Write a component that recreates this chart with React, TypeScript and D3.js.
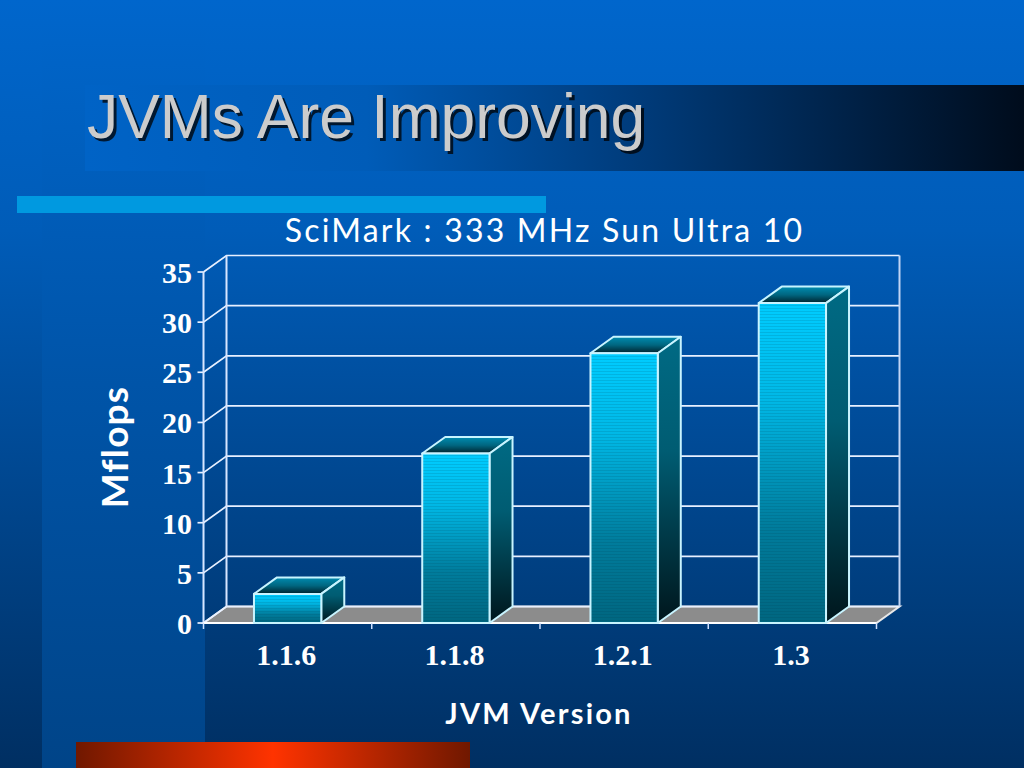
import React from "react";
import * as d3 from "d3";

const categories = ["1.1.6", "1.1.8", "1.2.1", "1.3"];
const values = [2.9, 16.9, 26.9, 31.9];
const yTicks = [0, 5, 10, 15, 20, 25, 30, 35];
const titleText = "JVMs Are Improving";
const chartTitle = "SciMark : 333 MHz Sun Ultra 10";
const xTitle = "JVM Version";
const yTitle = "Mflops";

const W = 1024, H = 768;
const dx = 23, dy = -16.5;
const y = d3.scaleLinear().domain([0, 35]).range([623, 272]);
const x = d3.scaleBand().domain(categories).range([203.5, 876.5]).paddingInner(0.6).paddingOuter(0.3);
const comic = "'Comic Sans MS','Lato','Noto Sans',sans-serif";

export default function App() {
  const x0 = 203.5, x1 = 876.5;
  const line = d3.line();
  return (
    <svg width={W} height={H} viewBox={`0 0 ${W} ${H}`} style={{ position: "absolute", left: 0, top: 0 }}>
      <defs>
        <linearGradient id="bg" x1="0" y1="0" x2="0" y2="1">
          <stop offset="0" stopColor="#0066cc" />
          <stop offset="0.3" stopColor="#005cb8" />
          <stop offset="1" stopColor="#002f62" />
        </linearGradient>
        <linearGradient id="bg2" gradientUnits="userSpaceOnUse" x1="0" y1="0" x2="0" y2="768">
          <stop offset="0" stopColor="#0066cc" />
          <stop offset="0.5" stopColor="#0054a8" />
          <stop offset="1" stopColor="#004488" />
        </linearGradient>
        <linearGradient id="band" x1="0" y1="0" x2="1" y2="0">
          <stop offset="0" stopColor="#0063c6" />
          <stop offset="0.3" stopColor="#005cb8" />
          <stop offset="0.6" stopColor="#003a78" />
          <stop offset="1" stopColor="#000c1c" />
        </linearGradient>
        <linearGradient id="red" x1="0" y1="0" x2="1" y2="0">
          <stop offset="0" stopColor="#701800" />
          <stop offset="0.5" stopColor="#ff3300" />
          <stop offset="1" stopColor="#701800" />
        </linearGradient>
        <linearGradient id="front" x1="0" y1="0" x2="0" y2="1">
          <stop offset="0" stopColor="#00ccff" />
          <stop offset="0.3" stopColor="#00b8e6" />
          <stop offset="0.7" stopColor="#007c9c" />
          <stop offset="1" stopColor="#006680" />
        </linearGradient>
        <linearGradient id="side" x1="0" y1="0" x2="0" y2="1">
          <stop offset="0" stopColor="#006a84" />
          <stop offset="0.4" stopColor="#005c72" />
          <stop offset="1" stopColor="#00161c" />
        </linearGradient>
        <linearGradient id="top" x1="0" y1="0" x2="0" y2="1">
          <stop offset="0" stopColor="#008cb0" />
          <stop offset="0.5" stopColor="#006680" />
          <stop offset="1" stopColor="#00222c" />
        </linearGradient>
        <pattern id="stripes" width="4" height="3" patternUnits="userSpaceOnUse">
          <rect y="2" width="4" height="1" fill="#003344" fillOpacity="0.13" />
        </pattern>
      </defs>
      <rect width={W} height={H} fill="url(#bg)" />
      <rect x={42} y={0} width={163} height={768} fill="url(#bg2)" />
      <rect x={85} y={85} width={939} height={86} fill="url(#band)" />
      <rect x={17} y={196} width={529} height={17} fill="#0099e0" />
      <rect x={76} y={742} width={394} height={26} fill="url(#red)" />

      <text x={87} y={138} fontFamily="'Liberation Sans',Arial,sans-serif" fontSize={62.4} fill="#000" fillOpacity={0.75} transform="translate(3 3)">{titleText}</text>
      <text x={87} y={138} fontFamily="'Liberation Sans',Arial,sans-serif" fontSize={62.4} fill="#cccccc">{titleText}</text>
      <text x={544.5} y={242} textAnchor="middle" fontFamily={comic} fontSize={32} letterSpacing={2.2} fill="#fff">{chartTitle}</text>

      {/* floor */}
      <path d={line([[x0, y(0)], [x0 + dx, y(0) + dy], [x1 + dx, y(0) + dy], [x1, y(0)]])! + "Z"} fill="#8c8c8c" stroke="#e8e8e8" strokeWidth={2} />
      {/* back wall gridlines */}
      {yTicks.map((t) => (
        <g key={t} stroke="#e8f0ff" strokeWidth={1.7} fill="none">
          <path d={line([[x0, y(t)], [x0 + dx, y(t) + dy], [x1 + dx, y(t) + dy]])!} />
          <path d={line([[x0 - 6, y(t)], [x0, y(t)]])!} />
        </g>
      ))}
      <path d={line([[x0, y(0)], [x0, y(35)]])!} stroke="#d8e6ff" strokeWidth={2} />
      <path d={line([[x0 + dx, y(0) + dy], [x0 + dx, y(35) + dy]])!} stroke="#d8e6ff" strokeWidth={2} />
      <path d={line([[x1 + dx, y(0) + dy], [x1 + dx, y(35) + dy]])!} stroke="#c0d4f4" strokeWidth={2} />
      <path d={line([[x0, y(0)], [x1, y(0)]])!} stroke="#ffffff" strokeWidth={2} />
      {d3.range(categories.length + 1).map((i) => {
        const tx = x0 + (i * (x1 - x0)) / categories.length;
        return <path key={i} d={line([[tx, y(0)], [tx, y(0) + 6]])!} stroke="#cfe0ff" strokeWidth={1.5} />;
      })}

      {/* bars */}
      {categories.map((c, i) => {
        const l = x(c)!, w = x.bandwidth(), t = y(values[i]), b = y(0);
        const st = { stroke: "#c8f4ff", strokeWidth: 2, strokeLinejoin: "round" as const };
        return (
          <g key={c}>
            <path d={line([[l, t], [l + dx, t + dy], [l + w + dx, t + dy], [l + w, t]])! + "Z"} fill="url(#top)" {...st} />
            <path d={line([[l + w, t], [l + w + dx, t + dy], [l + w + dx, b + dy], [l + w, b]])! + "Z"} fill="url(#side)" {...st} />
            <rect x={l} y={t} width={w} height={b - t} fill="url(#front)" />
            <rect x={l} y={t} width={w} height={b - t} fill="url(#stripes)" {...st} />
          </g>
        );
      })}

      {yTicks.map((t) => (
        <text key={t} x={192} y={y(t) + 11} textAnchor="end" fontFamily="'Liberation Serif',serif" fontWeight="bold" fontSize={30} fill="#fff">{t}</text>
      ))}
      {categories.map((c) => (
        <text key={c} x={x(c)! + x.bandwidth() / 2 - 1.5} y={665} textAnchor="middle" fontFamily="'Liberation Serif',serif" fontWeight="bold" fontSize={30} fill="#fff">{c}</text>
      ))}
      <text x={539} y={724} textAnchor="middle" fontFamily={comic} fontWeight="bold" fontSize={29} letterSpacing={2.2} fill="#fff">{xTitle}</text>
      <text transform="translate(128 447) rotate(-90)" textAnchor="middle" fontFamily={comic} fontWeight="bold" fontSize={37} letterSpacing={1.2} fill="#fff">{yTitle}</text>
    </svg>
  );
}
